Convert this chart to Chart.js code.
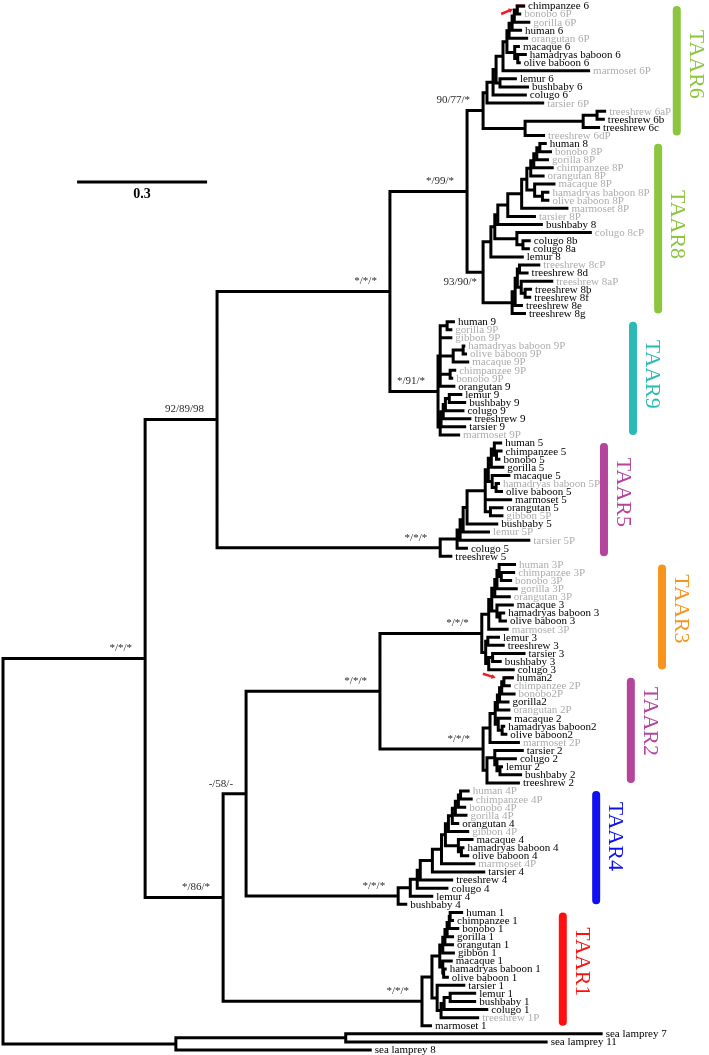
<!DOCTYPE html>
<html lang="en">
<head>
<meta charset="UTF-8">
<title>TAAR gene tree</title>
<script src="https://cdn.jsdelivr.net/npm/chart.js"></script>
<style>
  * { margin: 0; padding: 0; box-sizing: border-box; }
  body { background: #fff; }
  .wrap { width: 709px; height: 1055px; position: relative; }
</style>
</head>
<body>
<div class="wrap"><canvas id="tree"></canvas></div>
<script>
// ---- data: each TAAR subclade as Newick, branch lengths in substitutions/site
const TAAR6 = "((((((((((chimpanzee 6:0.018,bonobo 6P:0.009):0.007,gorilla 6P:0.037):0.005,human 6:0.023):0.007,orangutan 6P:0.044):0.005,(macaque 6:0.012,(hamadryas baboon 6:0.021,olive baboon 6:0.007):0.007):0.018):0.009,marmoset 6P:0.201):0.016,(lemur 6:0.039,bushbaby 6:0.067):0.009):0.007,colugo 6:0.078):0.014,tarsier 6P:0.132):0.009,(((treeshrew 6aP:0.021,treeshrew 6b:0.018):0.032,treeshrew 6c:0.039):0.134,treeshrew 6dP:0.046):0.097)";
const TAAR8 = "(((((((((((human 8:0.016,bonobo 8P:0.028):0.007,gorilla 8P:0.028):0.007,chimpanzee 8P:0.046):0.007,orangutan 8P:0.032):0.009,(macaque 8P:0.048,(hamadryas baboon 8P:0.016,olive baboon 8P:0.016):0.018):0.018):0.012,marmoset 8P:0.108):0.032,tarsier 8P:0.065):0.023,bushbaby 8:0.104):0.007,(colugo 8cP:0.173,(colugo 8b:0.018,colugo 8a:0.016):0.014):0.051):0.009,lemur 8:0.076):0.018,((((treeshrew 8cP:0.048,treeshrew 8d:0.021):0.005,(treeshrew 8aP:0.074,(treeshrew 8b:0.016,treeshrew 8f:0.014):0.009):0.009):0.005,treeshrew 8e:0.018):0.007,treeshrew 8g:0.032):0.067)";
const TAAR9 = "(((human 9:0.018,gorilla 9P:0.012):0.016,gibbon 9P:0.028,((hamadryas baboon 9P:0.005,olive baboon 9P:0.009):0.023,macaque 9P:0.037):0.030,(chimpanzee 9P:0.014,bonobo 9P:0.007):0.023,orangutan 9:0.035):0.005,(((((lemur 9:0.030,bushbaby 9:0.039):0.009,colugo 9:0.044):0.005,treeshrew 9:0.065):0.005,tarsier 9:0.058):0.002,marmoset 9P:0.046):0.005)";
const TAAR5 = "(((((((((human 5:0.018,(chimpanzee 5:0.014,bonobo 5:0.009):0.005):0.007,gorilla 5:0.030):0.007,(macaque 5:0.042,(hamadryas baboon 5P:0.009,olive baboon 5:0.016):0.009):0.009):0.007,marmoset 5:0.062,(orangutan 5:0.030,gibbon 5P:0.030):0.012):0.042,bushbaby 5:0.072):0.009,lemur 5P:0.062):0.007,tarsier 5P:0.162):0.007,colugo 5:0.025):0.039,treeshrew 5:0.028)";
const TAAR3 = "((((((human 3P:0.039,(chimpanzee 3P:0.032,bonobo 3P:0.025):0.005):0.005,gorilla 3P:0.048):0.005,orangutan 3P:0.037):0.007,(macaque 3:0.039,(hamadryas baboon 3:0.012,olive baboon 3:0.016):0.007):0.012):0.007,marmoset 3P:0.046):0.016,((lemur 3:0.028,treeshrew 3:0.039):0.005,((tarsier 3:0.076,bushbaby 3:0.021):0.009,colugo 3:0.060):0.007):0.009)";
const TAAR2 = "(((((((human2:0.023,chimpanzee 2P:0.016):0.005,bonobo2P:0.032):0.005,gorilla2:0.023):0.005,orangutan 2P:0.030):0.005,(macaque 2:0.030,(hamadryas baboon2:0.007,olive baboon2:0.012):0.009):0.007):0.012,marmoset 2P:0.069):0.016,((tarsier 2:0.067,(colugo 2:0.046,(lemur 2:0.007,bushbaby 2:0.051):0.007):0.005):0.018,treeshrew 2:0.076):0.009)";
const TAAR4 = "((((((((((((human 4P:0.021,chimpanzee 4P:0.028):0.005,bonobo 4P:0.018):0.007,gorilla 4P:0.028):0.007,orangutan 4:0.016):0.009,gibbon 4P:0.048):0.007,(macaque 4:0.035,(hamadryas baboon 4:0.007,olive baboon 4:0.018):0.007):0.030):0.009,marmoset 4P:0.078):0.021,tarsier 4:0.122):0.028,treeshrew 4:0.076):0.007,colugo 4:0.072):0.016,lemur 4:0.053):0.028,bushbaby 4:0.021)";
const TAAR1 = "((((((((human 1:0.030,chimpanzee 1:0.009):0.002,bonobo 1:0.023):0.005,gorilla 1:0.016):0.005,orangutan 1:0.021):0.005,gibbon 1:0.028):0.007,(macaque 1:0.023,(hamadryas baboon 1:0.007,olive baboon 1:0.012):0.002):0.007):0.018,(tarsier 1:0.065,(((lemur 1:0.060,bushbaby 1:0.060):0.014,colugo 1:0.102):0.007,treeshrew 1P:0.088):0.009):0.012):0.023,marmoset 1:0.023)";
const LAMPREY = "((sea lamprey 7:0.593,sea lamprey 11:0.466):0.392,sea lamprey 8:0.452)";

// backbone joining the subclades, with support values (node labels)
const BACKBONE = "(((((" + TAAR6 + "90/77/*:0.037," + TAAR8 + "93/90/*:0.037)*/99/*:0.178," +
  TAAR9 + "*/91/*:0.111)*/*/*:0.399," + TAAR5 + "*/*/*:0.515)92/89/98:0.166," +
  "(((" + TAAR3 + "*/*/*:0.235," + TAAR2 + "*/*/*:0.238)*/*/*:0.309," + TAAR4 + "*/*/*:0.351)-/58/-:0.053," +
  TAAR1 + "*/*/*:0.459)*/86/*:0.180)*/*/*:0.328," + LAMPREY + ":0.399)";

const cladeNames = ['TAAR6', 'TAAR8', 'TAAR9', 'TAAR5', 'TAAR3', 'TAAR2', 'TAAR4', 'TAAR1'];
const cladeTrees = [TAAR6, TAAR8, TAAR9, TAAR5, TAAR3, TAAR2, TAAR4, TAAR1];
const scaleBarLength = 0.3;
const highlighted = ['chimpanzee 6', 'human2'];

// ---- look
const cladeColors = ['#8cc63f', '#8cc63f', '#2bbab5', '#b5449d', '#f7941d', '#b5449d', '#1010f0', '#ff1010'];
const cladeBarX = [1.555, 1.512, 1.454, 1.387, 1.521, 1.449, 1.369, 1.292];   // in branch-length units
const cladeTextRow = [7.2, 27.0, 45.5, 60.1, 74.5, 88.4, 102.6, 118.1];
const scaleBarPos = { x: 0.171, row: 21.75 };
const belowLabel = ['TAAR8'];
const arrows = [
  { leaf: 'chimpanzee 6', from: [-24, 8], to: [-12, 3] },
  { leaf: 'human2', from: [-31, -4], to: [-18, 0] }
];
const serif = '"Liberation Serif", "Times New Roman", serif';

// ---- newick parser + layout
function parseNewick(s) {
  let i = 0;
  function node() {
    const n = { children: [], name: '', len: 0 };
    if (s[i] === '(') {
      i++;
      n.children.push(node());
      while (s[i] === ',') { i++; n.children.push(node()); }
      i++;
    }
    let name = '';
    while (i < s.length && !':,();'.includes(s[i])) name += s[i++];
    n.name = name.trim();
    if (s[i] === ':') {
      i++;
      let num = '';
      while (i < s.length && !',();'.includes(s[i])) num += s[i++];
      n.len = parseFloat(num);
    }
    return n;
  }
  return node();
}

const root = parseNewick(BACKBONE);
const leaves = [];
const internals = [];
(function place(n, d) {
  n.depth = d + n.len;
  if (!n.children.length) {
    n.row = n.first = n.last = leaves.length;
    leaves.push(n);
  } else {
    n.children.forEach(c => place(c, n.depth));
    const a = n.children[0], b = n.children[n.children.length - 1];
    n.row = (a.row + b.row) / 2;
    n.first = a.first; n.last = b.last;
    internals.push(n);
  }
})(root, 0);
const leafByName = {};
leaves.forEach(l => { leafByName[l.name] = l; });

// which node is each TAAR clade
const cladeNodes = cladeTrees.map(t => {
  const names = [];
  (function collect(n) { if (!n.children.length) names.push(n.name); n.children.forEach(collect); })(parseNewick(t));
  const f = leafByName[names[0]].row, l = leafByName[names[names.length - 1]].row;
  return internals.find(n => n.first === f && n.last === l);
});

// elbow segments: parent -> down/up -> child
const branchPts = [];
(function walk(n) {
  n.children.forEach(c => {
    branchPts.push({ x: n.depth, y: n.row }, { x: n.depth, y: c.row }, { x: c.depth, y: c.row }, { x: null, y: null });
    walk(c);
  });
})(root);

const redPts = [];
highlighted.forEach(name => {
  const l = leafByName[name];
  redPts.push({ x: l.depth - 0.022, y: l.row }, { x: l.depth, y: l.row }, { x: null, y: null });
});

const datasets = [
  { data: branchPts, borderColor: '#000', borderWidth: 3, showLine: true, pointRadius: 0,
    borderCapStyle: 'butt', borderJoinStyle: 'miter', clip: false },
  { data: redPts, borderColor: '#ee1c24', borderWidth: 3, showLine: true, pointRadius: 0, clip: false },
  { data: [{ x: scaleBarPos.x, y: scaleBarPos.row }, { x: scaleBarPos.x + scaleBarLength, y: scaleBarPos.row }],
    borderColor: '#000', borderWidth: 2.8, showLine: true, pointRadius: 0, clip: false }
];
cladeNodes.forEach((n, k) => {
  datasets.push({
    data: [{ x: cladeBarX[k], y: n.first + 0.5 }, { x: cladeBarX[k], y: n.last - 0.5 }],
    borderColor: cladeColors[k], borderWidth: 8, borderCapStyle: 'round',
    showLine: true, pointRadius: 0, clip: false
  });
});

const treeText = {
  id: 'treeText',
  afterDatasetsDraw(chart) {
    const { ctx } = chart;
    const x = chart.scales.x, y = chart.scales.y;
    ctx.save();

    // tip labels
    ctx.font = '11px ' + serif;
    ctx.textBaseline = 'middle';
    ctx.textAlign = 'left';
    leaves.forEach(l => {
      ctx.fillStyle = /P$/.test(l.name) ? '#adadad' : '#000';
      ctx.fillText(l.name, x.getPixelForValue(l.depth) + 3, y.getPixelForValue(l.row) + 0.5);
    });

    // support values
    const below = belowLabel.map(c => cladeNodes[cladeNames.indexOf(c)]);
    ctx.fillStyle = '#2a2a2a';
    ctx.textAlign = 'right';
    internals.forEach(n => {
      if (!n.name) return;
      const isBelow = below.includes(n);
      const px = x.getPixelForValue(n.depth) - (isBelow ? 6 : 13);
      const py = y.getPixelForValue(n.row) + (isBelow ? 10 : -10);
      ctx.fillText(n.name, px, py);
    });

    // scale bar value
    ctx.font = 'bold 14px ' + serif;
    ctx.textAlign = 'center';
    ctx.fillStyle = '#000';
    ctx.fillText(String(scaleBarLength), x.getPixelForValue(scaleBarPos.x + scaleBarLength / 2), y.getPixelForValue(scaleBarPos.row) + 12);

    // clade names, rotated
    ctx.font = '22px ' + serif;
    cladeNames.forEach((name, k) => {
      ctx.save();
      ctx.translate(x.getPixelForValue(cladeBarX[k]) + 19, y.getPixelForValue(cladeTextRow[k]));
      ctx.rotate(Math.PI / 2);
      ctx.fillStyle = cladeColors[k];
      ctx.fillText(name, 0, 0);
      ctx.restore();
    });

    // red arrows pointing at highlighted tips
    ctx.strokeStyle = '#ee1c24';
    ctx.fillStyle = '#ee1c24';
    ctx.lineWidth = 2.5;
    arrows.forEach(a => {
      const l = leafByName[a.leaf];
      const tx = x.getPixelForValue(l.depth), ty = y.getPixelForValue(l.row);
      const x0 = tx + a.from[0], y0 = ty + a.from[1], x1 = tx + a.to[0], y1 = ty + a.to[1];
      const ang = Math.atan2(y1 - y0, x1 - x0);
      ctx.beginPath();
      ctx.moveTo(x0, y0);
      ctx.lineTo(x1 - 3 * Math.cos(ang), y1 - 3 * Math.sin(ang));
      ctx.stroke();
      ctx.beginPath();
      ctx.moveTo(x1, y1);
      ctx.lineTo(x1 - 5 * Math.cos(ang - 0.5), y1 - 5 * Math.sin(ang - 0.5));
      ctx.lineTo(x1 - 5 * Math.cos(ang + 0.5), y1 - 5 * Math.sin(ang + 0.5));
      ctx.closePath();
      ctx.fill();
    });
    ctx.restore();
  }
};

new Chart(document.getElementById('tree'), {
  type: 'scatter',
  data: { datasets },
  options: {
    responsive: true,
    maintainAspectRatio: false,
    animation: false,
    events: [],
    layout: { padding: { left: 3, right: 0, top: 6, bottom: 5 } },
    scales: {
      x: { type: 'linear', min: 0, max: 1.6294, display: false },
      y: { type: 'linear', min: 0, max: leaves.length - 1, reverse: true, display: false }
    },
    plugins: { legend: { display: false }, tooltip: { enabled: false } }
  },
  plugins: [treeText]
});
</script>
</body>
</html>
